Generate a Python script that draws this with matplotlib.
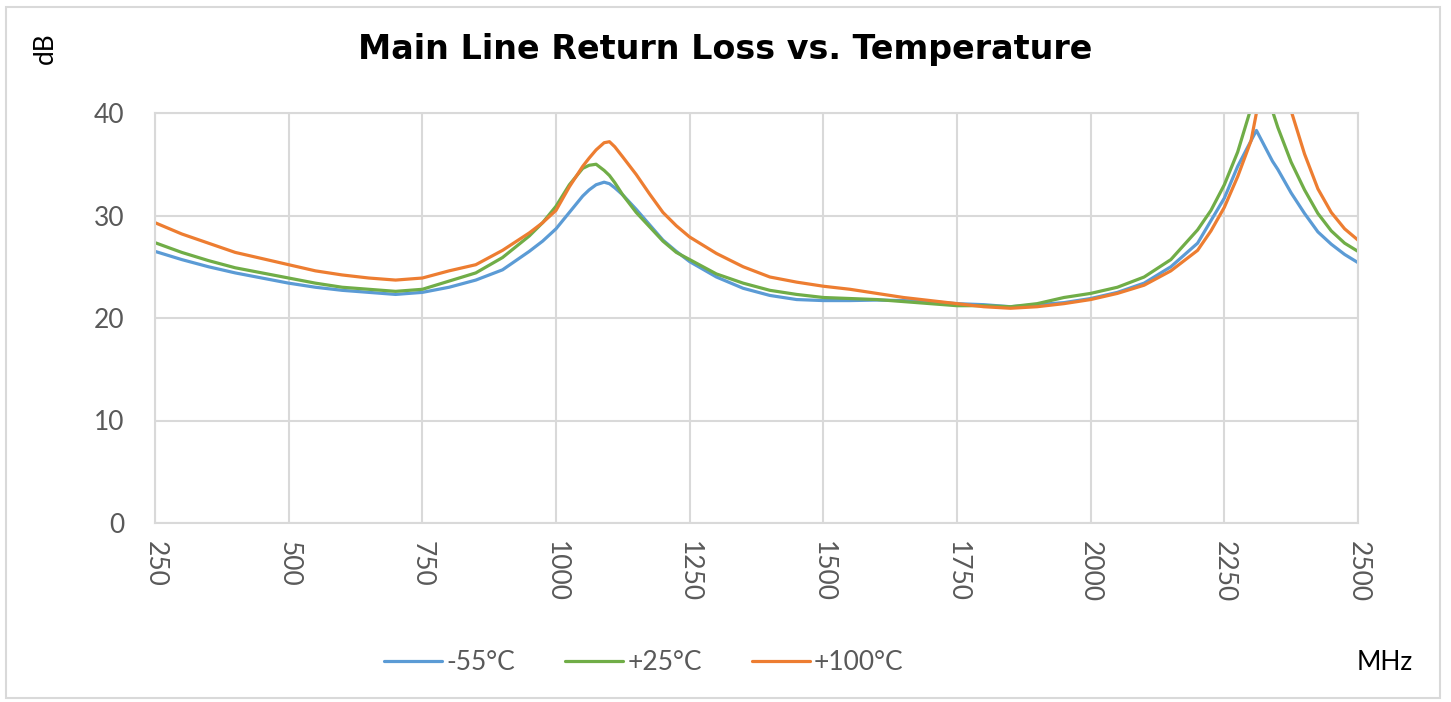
import matplotlib
matplotlib.use("Agg")
import matplotlib.pyplot as plt
from matplotlib.patches import Rectangle

# Frequency points (MHz)
freq_low = [250, 300, 350, 400, 450, 500, 550, 600, 650, 700, 750, 800, 850,
            900, 950, 975, 1000, 1025, 1050, 1062, 1075, 1090, 1100, 1110,
            1125, 1150, 1175, 1200, 1225, 1250, 1300, 1350, 1400, 1450, 1500,
            1550, 1600, 1650, 1700, 1750, 1800, 1850, 1900, 1950, 2000, 2050,
            2100, 2150, 2200, 2225, 2250, 2275]

blue_low = [26.5, 25.7, 25.0, 24.4, 23.9, 23.4, 23.0, 22.7, 22.5, 22.3, 22.5,
            23.0, 23.7, 24.7, 26.5, 27.5, 28.7, 30.3, 31.9, 32.5, 33.0, 33.25,
            33.1, 32.7, 32.0, 30.6, 29.1, 27.6, 26.5, 25.5, 24.0, 22.9, 22.2,
            21.8, 21.7, 21.7, 21.75, 21.7, 21.6, 21.4, 21.3, 21.1, 21.3, 21.5,
            21.9, 22.5, 23.4, 25.0, 27.3, 29.5, 31.7, 34.8]
green_low = [27.35, 26.4, 25.6, 24.9, 24.4, 23.9, 23.4, 23.0, 22.8, 22.6, 22.8,
             23.6, 24.4, 25.9, 28.0, 29.3, 30.9, 33.0, 34.6, 34.9, 35.0, 34.4,
             33.9, 33.2, 32.0, 30.3, 28.9, 27.5, 26.4, 25.7, 24.3, 23.4, 22.7,
             22.3, 22.0, 21.9, 21.8, 21.6, 21.4, 21.2, 21.2, 21.1, 21.4, 22.0,
             22.4, 23.0, 24.0, 25.7, 28.6, 30.5, 33.0, 36.2]
orange_low = [29.3, 28.2, 27.3, 26.4, 25.8, 25.2, 24.6, 24.2, 23.9, 23.7, 23.9,
              24.6, 25.2, 26.6, 28.3, 29.3, 30.5, 32.8, 34.8, 35.6, 36.4, 37.1,
              37.2, 36.7, 35.7, 34.0, 32.1, 30.3, 29.0, 27.9, 26.3, 25.0, 24.0,
              23.5, 23.1, 22.8, 22.4, 22.0, 21.7, 21.4, 21.1, 20.95, 21.1, 21.4,
              21.8, 22.4, 23.2, 24.6, 26.6, 28.5, 30.8, 33.8]

# Resonance near 2300 MHz (green/orange run off the top of the chart)
freq_hi = [2300, 2310, 2325, 2340, 2350, 2375, 2400, 2425, 2450, 2475, 2500]
blue_hi = [37.3, 38.3, 36.8, 35.3, 34.5, 32.2, 30.2, 28.4, 27.2, 26.2, 25.4]
green_hi = [40.5, 44.0, 46.0, 40.2, 38.6, 35.2, 32.5, 30.2, 28.5, 27.3, 26.5]
orange_hi = [37.3, 40.0, 43.0, 45.0, 43.5, 40.2, 36.0, 32.6, 30.3, 28.7, 27.6]

freq = freq_low + freq_hi
series = {
    "-55°C": (blue_low + blue_hi, "#5B9BD5"),
    "+25°C": (green_low + green_hi, "#70AD47"),
    "+100°C": (orange_low + orange_hi, "#ED7D31"),
}

x_ticks = [250, 500, 750, 1000, 1250, 1500, 1750, 2000, 2250, 2500]
y_ticks = [0, 10, 20, 30, 40]

plt.rcParams["font.family"] = ["Lato", "DejaVu Sans"]
grid_c = "#D9D9D9"
text_c = "#595959"

fig = plt.figure(figsize=(14.51, 7.02), dpi=100)
ax = fig.add_axes([155 / 1451, 1 - 523 / 702, (1358 - 155) / 1451, (523 - 113) / 702])

for name, (vals, col) in series.items():
    ax.plot(freq, vals, color=col, lw=2.3, label=name,
            solid_joinstyle="round", solid_capstyle="round")

ax.set_xlim(250, 2500)
ax.set_ylim(0, 40)
ax.set_xticks(x_ticks)
ax.set_yticks(y_ticks)
ax.set_xticklabels([str(t) for t in x_ticks], rotation=-90, va="top", ha="center")
ax.tick_params(axis="both", length=0, labelsize=19, labelcolor=text_c)
ax.tick_params(axis="x", pad=13)
ax.tick_params(axis="y", pad=22)
ax.grid(True, color=grid_c, lw=1.5)
ax.set_axisbelow(True)
for sp in ax.spines.values():
    sp.set_color(grid_c)
    sp.set_linewidth(1.5)

fig.text(725 / 1451, 1 - 50 / 702, "Main Line Return Loss vs. Temperature",
         ha="center", va="center", fontsize=24, fontweight="bold", color="black",
         family="DejaVu Sans")
fig.text(45 / 1451, 1 - 48 / 702, "dB", rotation=90, ha="center", va="center",
         fontsize=19, color="black")
fig.text(1385 / 1451, 1 - 663 / 702, "MHz", ha="center", va="center",
         fontsize=19, color="black")

fig.legend(loc="center", bbox_to_anchor=(644 / 1451, 1 - 663 / 702), ncol=3,
           frameon=False, fontsize=19, labelcolor=text_c, handlelength=2.2,
           handletextpad=0.15, columnspacing=1.9)

fig.patches.append(Rectangle((6 / 1451, 4 / 702), 1434 / 1451, 691 / 702,
                             transform=fig.transFigure, fill=False,
                             edgecolor=grid_c, lw=1.5))

fig.savefig("out.png", dpi=100)
